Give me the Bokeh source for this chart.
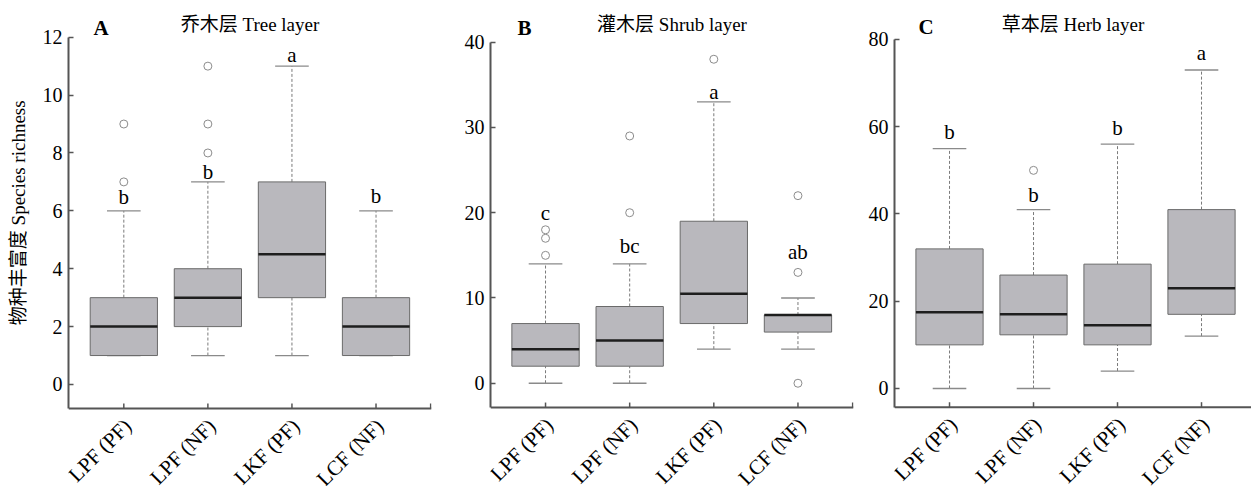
import math
from bokeh.plotting import figure
from bokeh.layouts import row
from bokeh.models import FixedTicker, Label, ColumnDataSource, Range1d, Span
from bokeh.embed import file_html
from bokeh.resources import INLINE
from bokeh.core.properties import value

categories = ["LPF (PF)", "LPF (NF)", "LKF (PF)", "LCF (NF)"]
y_label = "物种丰富度 Species richness"

# Tree layer
tree_q1 = [1, 2, 3, 1]
tree_med = [2, 3, 4.5, 2]
tree_q3 = [3, 4, 7, 3]
tree_lo = [1, 1, 1, 1]
tree_hi = [6, 7, 11, 6]
tree_out = [[7, 9], [8, 9, 11], [], []]
tree_letters = ["b", "b", "a", "b"]
tree_letter_y = [6.47, 7.34, 11.37, 6.5]

# Shrub layer
shrub_q1 = [2, 2, 7, 6]
shrub_med = [4, 5, 10.5, 8]
shrub_q3 = [7, 9, 19, 8]
shrub_lo = [0, 0, 4, 4]
shrub_hi = [14, 14, 33, 10]
shrub_out = [[15, 17, 18], [20, 29], [38], [0, 13, 22]]
shrub_letters = ["c", "bc", "a", "ab"]
shrub_letter_y = [20.0, 16.1, 34.2, 15.4]

# Herb layer
herb_q1 = [10, 12.3, 10, 17]
herb_med = [17.5, 17, 14.5, 23]
herb_q3 = [32, 26, 28.5, 41]
herb_lo = [0, 0, 4, 12]
herb_hi = [55, 41, 56, 73]
herb_out = [[], [50], [], []]
herb_letters = ["b", "b", "b", "a"]
herb_letter_y = [58.8, 44.4, 59.6, 76.8]

SERIF = "Liberation Serif"
MIXED = "Liberation Serif, Noto Sans CJK SC"
BOX_FILL = "#b9b8bd"
BOX_LINE = "#6a6a6a"
AXIS_COL = "#555555"
H = 486


def make_panel(q1, med, q3, lo, hi, outs, letters, letter_y,
               y_start, y_axis, y_top_tick, y_end, yticks, x_start, x_end,
               width, bl, br, tag, tag_dx, tag_dy, title, title_dy, end_tick=True):
    xs = [i + 1 for i in range(len(categories))]
    p = figure(width=width, height=H, output_backend="svg", toolbar_location=None,
               x_range=Range1d(x_start, x_end), y_range=Range1d(y_start, y_end),
               min_border_left=bl, min_border_right=br, min_border_top=4,
               min_border_bottom=0)
    p.outline_line_color = None
    p.xgrid.visible = False
    p.ygrid.visible = False
    p.xaxis.visible = False
    p.background_fill_color = "white"

    src = ColumnDataSource(dict(
        x=xs, q1=q1, med=med, q3=q3, lo=lo, hi=hi,
        cl=[x - 0.2 for x in xs], cr=[x + 0.2 for x in xs],
        ml=[x - 0.4 for x in xs], mr=[x + 0.4 for x in xs],
    ))
    # whiskers
    p.segment(x0="x", y0="q3", x1="x", y1="hi", source=src, line_color="#7a7a7a",
              line_width=1, line_dash="3 2")
    p.segment(x0="x", y0="lo", x1="x", y1="q1", source=src, line_color="#7a7a7a",
              line_width=1, line_dash="3 2")
    # caps
    p.segment(x0="cl", y0="hi", x1="cr", y1="hi", source=src, line_color="#8a8a8a", line_width=1.3)
    p.segment(x0="cl", y0="lo", x1="cr", y1="lo", source=src, line_color="#8a8a8a", line_width=1.3)
    # boxes
    p.vbar(x="x", width=0.8, bottom="q1", top="q3", source=src, fill_color=BOX_FILL,
           line_color=BOX_LINE, line_width=1)
    # medians
    p.segment(x0="ml", y0="med", x1="mr", y1="med", source=src, line_color="#1e1e1e", line_width=2.5)
    # outliers
    ox, oy = [], []
    for x, vals in zip(xs, outs):
        for v in vals:
            ox.append(x)
            oy.append(v)
    p.scatter(ox, oy, marker="circle", size=8, fill_color="white", line_color="#8c8c8c", line_width=1)
    # significance letters
    p.text(xs, letter_y, text=letters, text_font=value(SERIF), text_font_size="21px",
           text_align="center", text_baseline="middle", text_color="black")

    # x axis (line, inward ticks, rotated category labels)
    p.add_layout(Span(location=y_axis, dimension="width", line_color=AXIS_COL, line_width=2))
    tick_x = list(xs) + ([x_end - 0.01] if end_tick else [])
    p.ray(x=tick_x, y=[y_axis] * len(tick_x), length=5, length_units="screen",
          angle=math.pi / 2, line_color=AXIS_COL, line_width=1.5)
    p.text(xs, [y_axis] * len(xs), text=categories, angle=math.pi / 4,
           text_font=value(SERIF), text_font_size="21px", text_color="black",
           text_align="right", text_baseline="middle", x_offset=4, y_offset=14)

    # y axis
    p.yaxis.ticker = FixedTicker(ticks=yticks)
    p.yaxis.bounds = (y_axis, y_top_tick)
    ax = p.yaxis
    ax.axis_line_color = AXIS_COL
    ax.axis_line_width = 2
    ax.major_tick_line_color = AXIS_COL
    ax.major_tick_line_width = 1.5
    ax.major_tick_in = 5
    ax.major_tick_out = 0
    ax.minor_tick_line_color = None
    ax.major_label_text_font = SERIF
    ax.major_label_text_font_size = "20px"
    ax.major_label_text_color = "black"
    ax.major_label_standoff = 6

    p.add_layout(Label(x=x_start, y=y_top_tick, x_offset=tag_dx, y_offset=tag_dy, text=tag,
                       text_font=SERIF, text_font_size="21px", text_font_style="bold",
                       text_align="center", text_baseline="middle", text_color="black"))
    p.add_layout(Label(x=(x_start + x_end) / 2, y=y_top_tick, y_offset=title_dy, text=title,
                       text_font=MIXED, text_font_size="19px",
                       text_align="center", text_baseline="middle", text_color="black"))
    return p


# narrow strip holding the shared y-axis title
LW = 32
pL = figure(width=LW, height=H, output_backend="svg", toolbar_location=None,
            x_range=Range1d(0, LW), y_range=Range1d(0, H),
            min_border_left=0, min_border_right=0, min_border_top=0, min_border_bottom=0)
pL.axis.visible = False
pL.grid.visible = False
pL.outline_line_color = None
pL.add_layout(Label(x=18, y=H - 210, text=y_label, angle=math.pi / 2,
                    text_font=MIXED, text_font_size="19px", text_color="black",
                    text_align="center", text_baseline="middle"))

pA = make_panel(tree_q1, tree_med, tree_q3, tree_lo, tree_hi, tree_out, tree_letters, tree_letter_y,
                -3.525, -0.83, 12, 13.13, [0, 2, 4, 6, 8, 10, 12], 0.342, 4.66,
                440 - LW, 68 - LW, 9, "A", 32.5, 9, "乔木层 Tree layer", 12.5)
pB = make_panel(shrub_q1, shrub_med, shrub_q3, shrub_lo, shrub_hi, shrub_out, shrub_letters, shrub_letter_y,
                -12.11, -2.85, 40, 44.42, [0, 10, 20, 30, 40], 0.346, 4.66,
                420, 50, 7, "B", 34, 14.5, "灌木层 Shrub layer", 17.5)
pC = make_panel(herb_q1, herb_med, herb_q3, herb_lo, herb_hi, herb_out, herb_letters, herb_letter_y,
                -22.47, -4.29, 80, 88.02, [0, 20, 40, 60, 80], 0.345, 4.595,
                391, 34, 0, "C", 31.5, 12, "草本层 Herb layer", 15, end_tick=False)

layout = row(pL, pA, pB, pC)
open("out.html", "w").write(file_html(layout, INLINE))
